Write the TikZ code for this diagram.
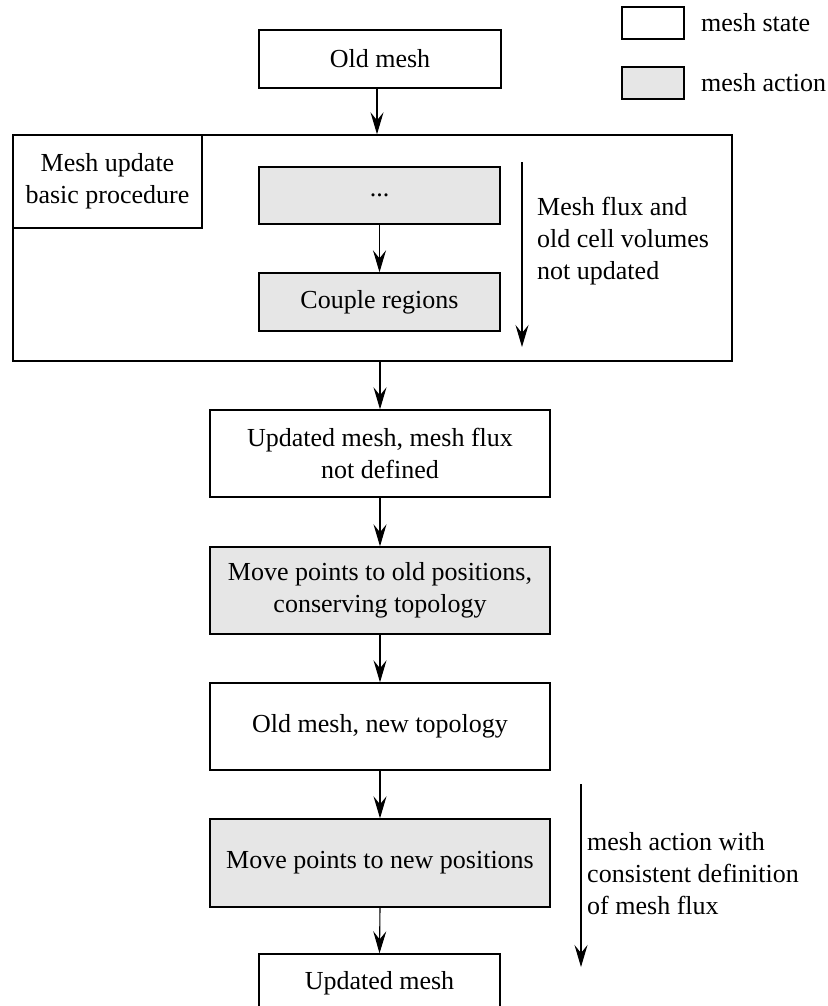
\documentclass[tikz,border=0pt]{standalone}
\usepackage{fontspec}
\setmainfont{Liberation Serif}
\usetikzlibrary{arrows.meta}
\begin{document}
\begin{tikzpicture}[x=1pt,y=-1pt,
  font=\fontsize{26}{32}\selectfont,
  state/.style={draw, line width=1.4pt, fill=white, align=center, inner sep=0pt},
  action/.style={state, fill=actgray},
  flow/.style={line width=1.1pt, -{Stealth[length=22pt,width=13pt,inset=8pt]}},
  note/.style={align=left, anchor=west, inner sep=0pt}]
\definecolor{actgray}{RGB}{230,230,230}
\clip (0,0) rectangle (827,1006);
\fill[white] (0,0) rectangle (827,1006);
% legend
\node[state, minimum width=62pt, minimum height=32pt] (lgs) at (653,23) {};
\node[action, minimum width=62pt, minimum height=32pt] (lga) at (653,83) {};
\node[note] (lgst) at (701,23) {mesh state};
\node[note] (lgat) at (701,83) {mesh action};
% top
\node[state, minimum width=242pt, minimum height=58pt] (old) at (380,59) {Old mesh};
\node[state, fill=none, minimum width=719pt, minimum height=226pt] (big) at (372.5,248) {};
\node[state, minimum width=189pt, minimum height=93pt] (lbl) at (107.5,181.5) {Mesh update\\basic procedure};
\node[action, minimum width=241pt, minimum height=57pt] (dots) at (379.5,195.5) {...};
\node[action, minimum width=241pt, minimum height=58pt] (couple) at (379.5,302) {Couple regions};
\coordinate (s1a) at (522,162);
\coordinate (s1b) at (522,347);
\node[note] (n1) at (537,241) {Mesh flux and\\old cell volumes\\not updated};
% lower chain
\node[state, minimum width=340pt, minimum height=87pt] (upd1) at (380,453.5) {Updated mesh, mesh flux\\not defined};
\node[action, minimum width=340pt, minimum height=87pt] (mvold) at (380,590.5) {Move points to old positions,\\conserving topology};
\node[state, minimum width=340pt, minimum height=87pt] (oldnew) at (380,726.5) {Old mesh, new topology};
\node[action, minimum width=340pt, minimum height=88pt] (mvnew) at (380,863) {Move points to new positions};
\node[state, minimum width=241pt, minimum height=58pt] (upd2) at (379.5,983) {Updated mesh};
\coordinate (s2a) at (581,784);
\coordinate (s2b) at (581,967);
\node[note] (n2) at (587,874) {mesh action with\\consistent definition\\of mesh flux};
% connectors
\draw[flow] ([xshift=-3pt]old.south) -- ([xshift=-3pt]old.south |- big.north);
\draw[flow] (dots.south) -- (couple.north);
\draw[flow] (s1a) -- (s1b);
\draw[flow] (upd1.north |- big.south) -- (upd1.north);
\draw[flow] (upd1.south) -- (mvold.north);
\draw[flow] (mvold.south) -- (oldnew.north);
\draw[flow] (oldnew.south) -- (mvnew.north);
\draw[flow] (mvnew.south) -- (upd2.north);
\draw[flow] (s2a) -- (s2b);
\end{tikzpicture}
\end{document}
